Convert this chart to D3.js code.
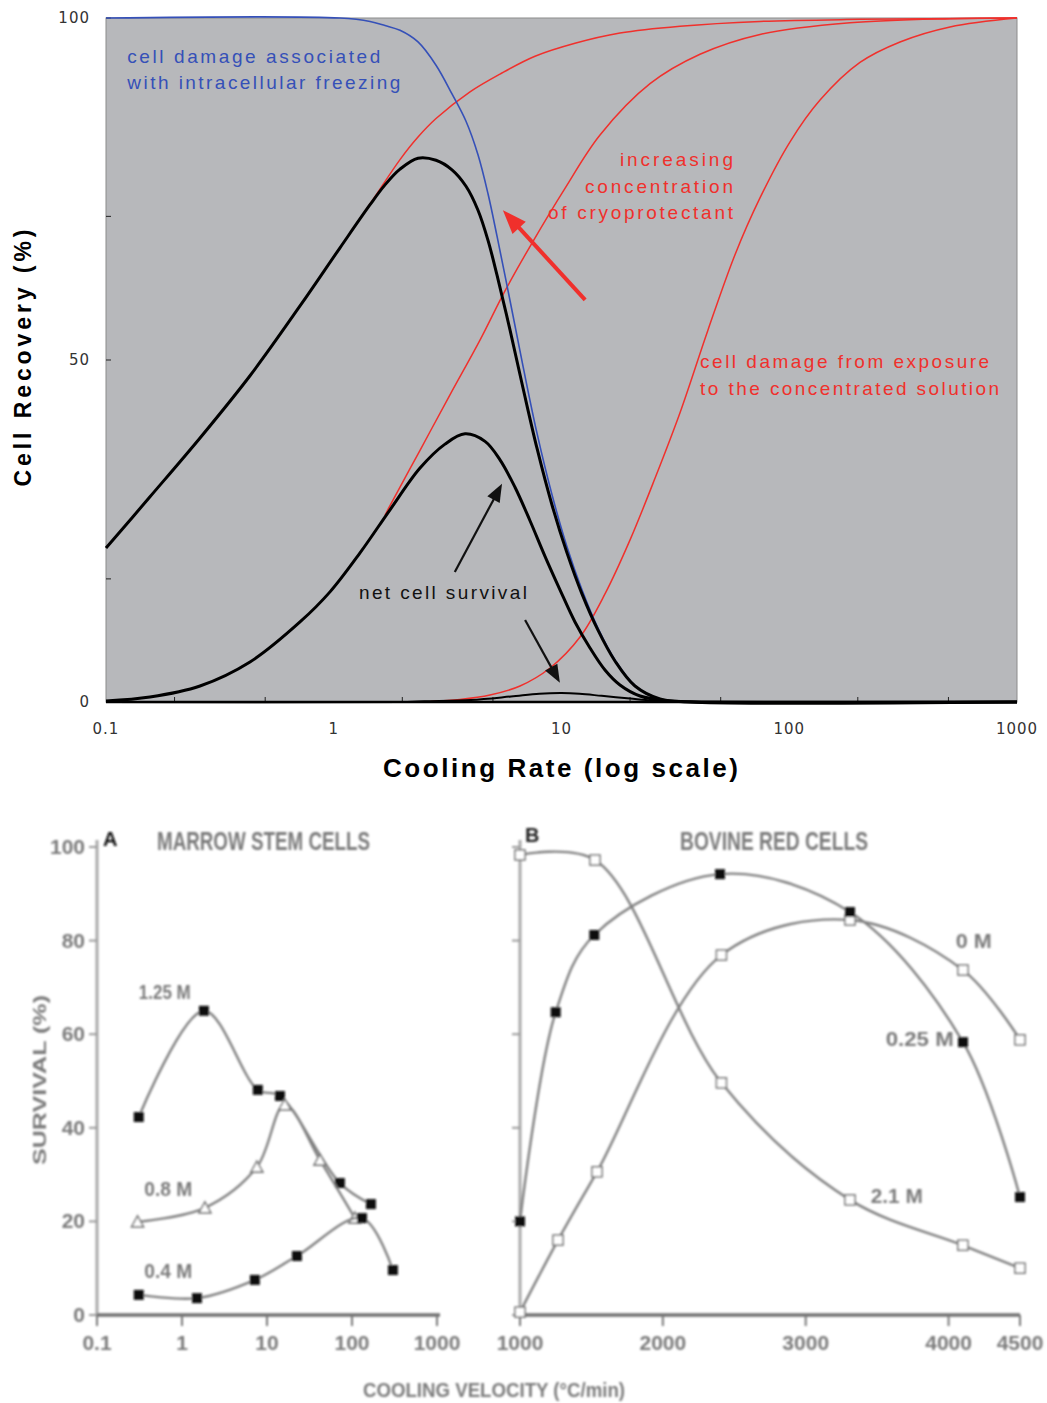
<!DOCTYPE html>
<html><head><meta charset="utf-8">
<script src="https://cdn.jsdelivr.net/npm/d3@7"></script>
<style>body{margin:0;background:#fff}svg{display:block}</style>
</head><body>
<script>
// ---------- TOP CHART DATA ([cooling rate, % recovery]) ----------
const topXTicks = [0.1, 1, 10, 100, 1000];
const topXTickLabels = ["0.1", "1", "10", "100", "1000"];
const topYTicks = [0, 50, 100];
const freezingCurve = [[0.1,100],[1.065,100],[1.443,99.5],[1.679,98.9],[1.954,98.2],[2.344,96.5],[2.812,93.1],[3.305,88.9],[3.808,84.9],[4.299,80.0],[4.757,74.3],[5.211,68.1],[5.941,58.7],[6.776,49.1],[7.805,39.3],[9.085,30.3],[10.57,22.7],[12.30,16.4],[14.46,10.8],[17.17,6.15],[21.02,2.4],[27.07,0.45],[36.66,0],[1000,0]];
const soluteLow = [[1.065,66.4],[1.443,72.8],[1.954,79.3],[2.344,82.6],[2.812,85.3],[3.965,89.2],[5.370,91.8],[7.648,94.4],[11.46,96.3],[18.06,97.8],[33.14,98.8],[74.39,99.5],[204.4,99.8],[1000,100]];
const soluteMid = [[1.679,27.3],[1.766,28.7],[2.392,36.8],[3.238,44.9],[4.386,52.9],[5.648,60.1],[7.421,67.1],[10.36,75.1],[14.76,82.9],[24.47,90.4],[40.56,94.7],[74.39,97.6],[184.8,99.3],[507.9,99.9],[1000,100]];
const soluteHigh = [[2.647,0.07],[3.583,0.37],[4.853,1.02],[6.575,2.34],[8.904,4.97],[12.06,9.5],[15.52,15.8],[20.0,23.7],[25.73,32.7],[33.14,42.3],[43.98,54.4],[57.78,65.4],[74.39,73.7],[100.8,81.9],[136.5,88.0],[204.4,93.5],[306.4,96.5],[507.9,98.7],[1000,100]];
const survivalLow = [[0.1,22.5],[0.156,30.0],[0.2587,38.6],[0.4288,47.7],[0.7109,57.9],[1.065,66.4],[1.443,72.7],[1.679,75.6],[1.954,77.9],[2.344,79.5],[2.812,79.2],[3.305,77.8],[3.808,75.4],[4.299,71.9],[4.757,67.5],[5.211,62.4],[5.941,54.4],[6.776,45.9],[7.805,37.1],[9.085,28.8],[10.57,21.8],[12.30,15.8],[14.46,10.5],[17.17,6.0],[21.02,2.34],[27.07,0.44],[36.66,0],[1000,0]];
const survivalMid = [[0.1,0.15],[0.156,0.73],[0.2587,2.34],[0.4288,5.85],[0.7109,11.7],[0.9627,16.1],[1.304,21.8],[1.766,28.1],[2.392,34.2],[3.080,37.7],[3.770,39.2],[4.615,38.1],[5.370,35.4],[6.249,31.4],[7.273,26.5],[8.464,21.3],[9.849,16.4],[11.46,11.7],[13.34,7.9],[15.52,4.68],[18.06,2.49],[22.12,0.88],[29.95,0.15],[40.56,0],[1000,0]];
const survivalHigh = [[0.1,0],[2.1,0],[2.5,0.1],[4,0.3],[6,0.8],[8,1.2],[10,1.3],[12,1.2],[15,0.9],[20,0.5],[25,0.2],[30,0.05],[40,0],[1000,0]];

// ---------- BOTTOM PANEL A (marrow stem cells) ----------
const aXTicks = [0.1, 1, 10, 100, 1000];
const aXTickLabels = ["0.1", "1", "10", "100", "1000"];
const survYTicks = [0, 20, 40, 60, 80, 100];
const marrow125 = [[0.31,42.3],[1.81,65.0],[7.8,48.1],[14.2,46.8],[72,28.2],[167,23.7]];
const marrow08 = [[0.30,19.9],[1.86,22.9],[7.6,31.6],[16.2,44.9],[42,33.1],[108,20.7]];
const marrow04 = [[0.31,4.3],[1.5,3.6],[7.2,7.5],[22.5,12.6],[131,20.7],[303,9.6]];

// ---------- BOTTOM PANEL B (bovine red cells) ----------
const bXTicks = [1000, 2000, 3000, 4000, 4500];
const bovine0 = [[1000,0.6],[1266,16.0],[1539,30.6],[2410,76.9],[3310,84.4],[4101,73.7],[4500,58.8]];
const bovine025 = [[1000,20.0],[1250,64.7],[1520,81.2],[2400,94.2],[3310,86.1],[4101,58.3],[4500,25.2]];
const bovine21 = [[1000,98.3],[1525,97.2],[2410,49.6],[3310,24.6],[4100,14.9],[4500,10.0]];

const W = 1047, H = 1403;
const svg = d3.select("body").append("svg").attr("width", W).attr("height", H);

// ================= TOP CHART =================
const x = d3.scaleLog().domain([0.1, 1000]).range([106, 1017]);
const y = d3.scaleLinear().domain([0, 100]).range([702, 18]);
const gTop = svg.append("g");
gTop.append("rect").attr("x", x(0.1)).attr("y", y(100)).attr("width", x(1000) - x(0.1)).attr("height", y(0) - y(100))
  .attr("fill", "#b7b8bb").attr("stroke", "#8c8c8c").attr("stroke-width", 1);

const minorX = [];
[0.1, 1, 10, 100].forEach(d => { minorX.push(d * 2, d * 5); });
gTop.selectAll(".mx").data(minorX).join("line")
  .attr("x1", d => x(d)).attr("x2", d => x(d)).attr("y1", y(0)).attr("y2", y(0) - 5)
  .attr("stroke", "#222").attr("stroke-width", 1);
gTop.selectAll(".yt").data([18, 71]).join("line")
  .attr("x1", x(0.1)).attr("x2", x(0.1) + 5).attr("y1", d => y(d)).attr("y2", d => y(d))
  .attr("stroke", "#222").attr("stroke-width", 1);
gTop.selectAll(".yt2").data(topYTicks).join("line")
  .attr("x1", x(0.1)).attr("x2", x(0.1) + 5).attr("y1", d => y(d)).attr("y2", d => y(d))
  .attr("stroke", "#222").attr("stroke-width", 1);

const line = d3.line().x(d => x(d[0])).y(d => y(d[1])).curve(d3.curveCatmullRom.alpha(0.5));
const red = "#f0302c", blue = "#3550b8";
[soluteLow, soluteMid, soluteHigh].forEach(c => gTop.append("path").attr("d", line(c)).attr("fill", "none").attr("stroke", red).attr("stroke-width", 1.5));
gTop.append("path").attr("d", line(freezingCurve)).attr("fill", "none").attr("stroke", blue).attr("stroke-width", 1.6);
gTop.append("path").attr("d", line(survivalHigh)).attr("fill", "none").attr("stroke", "#000").attr("stroke-width", 2);
gTop.append("path").attr("d", line(survivalMid)).attr("fill", "none").attr("stroke", "#000").attr("stroke-width", 3);
gTop.append("path").attr("d", line(survivalLow)).attr("fill", "none").attr("stroke", "#000").attr("stroke-width", 3);
gTop.append("line").attr("x1", x(0.1)).attr("x2", x(1000)).attr("y1", y(0)).attr("y2", y(0)).attr("stroke", "#000").attr("stroke-width", 2.5);

gTop.selectAll(".yl").data(topYTicks).join("text")
  .attr("x", 90).attr("y", d => y(d) + 5).attr("text-anchor", "end")
  .attr("font-family", "DejaVu Sans, sans-serif").attr("font-size", 15).attr("fill", "#333")
  .attr("letter-spacing", 1).text(d => d);
gTop.selectAll(".xl").data(topXTicks).join("text")
  .attr("x", d => x(d)).attr("y", 734).attr("text-anchor", "middle")
  .attr("font-family", "DejaVu Sans, sans-serif").attr("font-size", 15).attr("fill", "#333")
  .attr("letter-spacing", 1).text((d, i) => topXTickLabels[i]);

gTop.append("text").attr("transform", "translate(31,358) rotate(-90)").attr("text-anchor", "middle")
  .attr("font-family", "Liberation Sans, Arial, sans-serif").attr("font-weight", "bold").attr("font-size", 23)
  .attr("textLength", 257).attr("lengthAdjust", "spacing").text("Cell Recovery (%)");
gTop.append("text").attr("x", 383).attr("y", 777)
  .attr("font-family", "Liberation Sans, Arial, sans-serif").attr("font-weight", "bold").attr("font-size", 26)
  .attr("textLength", 355).attr("lengthAdjust", "spacing").text("Cooling Rate (log scale)");

const annoFont = "Liberation Sans, Arial, sans-serif";
const notes = [
  {t: "cell damage associated", r: 0.124, p: 93.4, w: 253, c: blue, a: "start"},
  {t: "with intracellular freezing", r: 0.124, p: 89.6, w: 273, c: blue, a: "start"},
  {t: "increasing", r: 56.6, p: 78.4, w: 113, c: red, a: "end"},
  {t: "concentration", r: 56.6, p: 74.4, w: 148, c: red, a: "end"},
  {t: "of cryoprotectant", r: 56.6, p: 70.6, w: 185, c: red, a: "end"},
  {t: "cell damage from exposure", r: 40.6, p: 48.8, w: 289, c: red, a: "start"},
  {t: "to the concentrated solution", r: 40.6, p: 44.9, w: 299, c: red, a: "start"},
  {t: "net cell survival", r: 1.29, p: 15.1, w: 168, c: "#111", a: "start"}
];
notes.forEach(n => {
  const x0 = n.a === "end" ? x(n.r) - n.w : x(n.r);
  gTop.append("text").attr("x", x0).attr("y", y(n.p)).attr("font-family", annoFont).attr("font-size", 19)
    .attr("fill", n.c).attr("textLength", n.w).attr("lengthAdjust", "spacing").text(n.t);
});

function arrow(tail, tip, color, w, hl, hw) {
  const x1 = x(tail[0]), y1 = y(tail[1]), x2 = x(tip[0]), y2 = y(tip[1]);
  const a = Math.atan2(y2 - y1, x2 - x1);
  const bx = x2 - hl * Math.cos(a), by = y2 - hl * Math.sin(a);
  gTop.append("line").attr("x1", x1).attr("y1", y1).attr("x2", bx + 2 * Math.cos(a)).attr("y2", by + 2 * Math.sin(a))
    .attr("stroke", color).attr("stroke-width", w);
  const px = -Math.sin(a) * hw, py = Math.cos(a) * hw;
  gTop.append("polygon").attr("points", `${x2},${y2} ${bx + px},${by + py} ${bx - px},${by - py}`).attr("fill", color);
}
arrow([12.7, 58.8], [5.53, 71.9], red, 4, 24, 9);
arrow([3.40, 19.0], [5.48, 31.9], "#111", 2.2, 18, 7);
arrow([6.92, 12.0], [9.84, 2.8], "#111", 2.2, 18, 7);

// ================= BOTTOM PANELS =================
const defs = svg.append("defs");
defs.append("filter").attr("id", "scan").append("feGaussianBlur").attr("stdDeviation", 0.8);
const bot = svg.append("g").attr("filter", "url(#scan)");
const gFont = "Liberation Sans Narrow, Arial Narrow, Liberation Sans, sans-serif";
const gray = "#7a7a7a";
const yS = d3.scaleLinear().domain([0, 100]).range([1315, 847]);
const xA = d3.scaleLog().domain([0.1, 1000]).range([97, 437]);
const xB = d3.scaleLinear().domain([1000, 4500]).range([520, 1020]);

function axesFor(xs, x0, x1, ticks, labels, showYLabels) {
  bot.append("line").attr("x1", x0).attr("x2", x0).attr("y1", 840).attr("y2", 1316).attr("stroke", "#a9a9a9").attr("stroke-width", 3);
  bot.append("line").attr("x1", x0).attr("x2", x1).attr("y1", 1315).attr("y2", 1315).attr("stroke", "#6f6f6f").attr("stroke-width", 3.5);
  bot.selectAll(null).data(survYTicks).join("line")
    .attr("x1", x0 - 8).attr("x2", x0).attr("y1", d => yS(d)).attr("y2", d => yS(d)).attr("stroke", "#9a9a9a").attr("stroke-width", 2);
  bot.selectAll(null).data(ticks).join("line")
    .attr("x1", d => xs(d)).attr("x2", d => xs(d)).attr("y1", 1315).attr("y2", 1326).attr("stroke", "#777").attr("stroke-width", 2);
  bot.selectAll(null).data(ticks).join("text")
    .attr("x", d => xs(d)).attr("y", 1350).attr("text-anchor", "middle").attr("font-family", gFont)
    .attr("font-weight", "bold").attr("font-size", 21).attr("fill", gray).text((d, i) => labels[i]);
  if (showYLabels) {
    bot.selectAll(null).data(survYTicks).join("text")
      .attr("x", x0 - 12).attr("y", d => yS(d) + 7).attr("text-anchor", "end").attr("font-family", gFont)
      .attr("font-weight", "bold").attr("font-size", 21).attr("fill", gray).text(d => d);
  }
}
axesFor(xA, 97, 440, aXTicks, aXTickLabels, true);
axesFor(xB, 520, 1020, bXTicks, bXTicks.map(String), false);

function series(xs, data, marker) {
  const ln = d3.line().x(d => xs(d[0])).y(d => yS(d[1])).curve(d3.curveCatmullRom.alpha(0.5));
  bot.append("path").attr("d", ln(data)).attr("fill", "none").attr("stroke", "#808080").attr("stroke-width", 2.4);
  data.forEach(d => {
    const cx = xs(d[0]), cy = yS(d[1]);
    if (marker === "filled") {
      bot.append("rect").attr("x", cx - 5).attr("y", cy - 5).attr("width", 10).attr("height", 10).attr("fill", "#111");
    } else if (marker === "tri") {
      bot.append("polygon").attr("points", `${cx},${cy - 6} ${cx - 6},${cy + 5} ${cx + 6},${cy + 5}`)
        .attr("fill", "#fff").attr("stroke", "#777").attr("stroke-width", 1.6);
    } else {
      bot.append("rect").attr("x", cx - 5).attr("y", cy - 5).attr("width", 10).attr("height", 10)
        .attr("fill", "#fff").attr("stroke", "#777").attr("stroke-width", 1.6);
    }
  });
}
series(xA, marrow125, "filled");
series(xA, marrow08, "tri");
series(xA, marrow04, "filled");
series(xB, bovine0, "open");
series(xB, bovine025, "filled");
series(xB, bovine21, "open");

function gtext(t, xx, yy, size, w, anchor) {
  const el = bot.append("text").attr("x", xx).attr("y", yy).attr("font-family", gFont).attr("font-weight", "bold")
    .attr("font-size", size).attr("fill", gray).attr("text-anchor", anchor || "start").text(t);
  if (w) el.attr("textLength", w).attr("lengthAdjust", "spacingAndGlyphs");
  return el;
}
gtext("MARROW STEM CELLS", 157, 850, 25, 213);
gtext("BOVINE RED CELLS", 680, 850, 25, 188);
bot.append("text").attr("x", 103).attr("y", 846).attr("font-family", gFont).attr("font-weight", "bold").attr("font-size", 20).attr("fill", "#111").text("A");
bot.append("text").attr("x", 525).attr("y", 842).attr("font-family", gFont).attr("font-weight", "bold").attr("font-size", 20).attr("fill", "#222").text("B");
const seriesLabels = [
  {t: "1.25 M", xs: xA, v: 0.31, p: 67.5, w: 52},
  {t: "0.8 M", xs: xA, v: 0.36, p: 25.5, w: 48},
  {t: "0.4 M", xs: xA, v: 0.36, p: 8.0, w: 48},
  {t: "0 M", xs: xB, v: 4050, p: 78.5, w: 36},
  {t: "0.25 M", xs: xB, v: 3560, p: 57.5, w: 68},
  {t: "2.1 M", xs: xB, v: 3455, p: 24.0, w: 52}
];
seriesLabels.forEach(s => gtext(s.t, s.xs(s.v), yS(s.p), 21, s.w));
bot.append("text").attr("transform", "translate(46,1080) rotate(-90)").attr("text-anchor", "middle")
  .attr("font-family", gFont).attr("font-weight", "bold").attr("font-size", 19).attr("fill", gray)
  .attr("textLength", 170).attr("lengthAdjust", "spacingAndGlyphs").text("SURVIVAL (%)");
gtext("COOLING VELOCITY (°C/min)", 363, 1397, 21, 262);
</script>
</body></html>
